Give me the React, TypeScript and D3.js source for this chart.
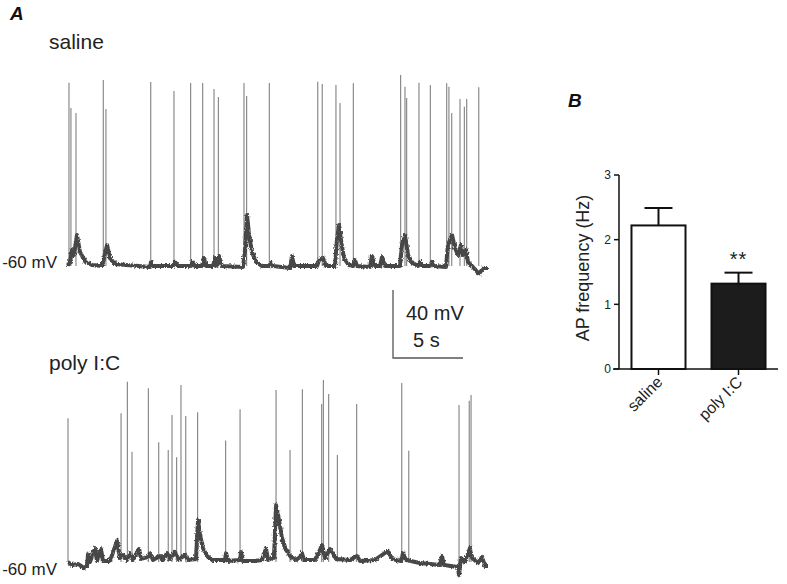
import React from "react";
import * as d3 from "d3";

// ---- trace data (time in s, membrane potential in mV) ----
const salineSpikeTimes = [0.07, 0.21, 0.57, 2.52, 2.71, 5.91, 7.57, 8.76, 9.62, 10.43, 10.74, 12.57, 12.76, 14.38, 17.84, 18.16, 19.14, 19.43, 20.38, 23.76, 24.07, 24.19, 25.07, 25.88, 27.05, 27.21, 27.41, 28.0, 28.31, 28.48, 29.34];
const salineSpikePeaks = [47.8, 32.9, 30, 49.4, 32.4, 48.2, 42.9, 47.6, 47.6, 44.1, 39.4, 47.6, 40, 47.6, 48.4, 47.1, 46.5, 35.9, 47.5, 52.4, 45.5, 38.8, 47.8, 46.5, 47.5, 45.5, 30, 38.2, 33.7, 38.2, 45.1];
const salineBaseT = [0, 0.14, 0.29, 0.43, 0.64, 0.86, 1.21, 1.71, 2.43, 2.57, 2.79, 3.0, 3.36, 5.86, 5.93, 6.07, 7.5, 7.64, 7.86, 8.71, 8.86, 9.07, 9.57, 9.71, 9.86, 10.36, 10.5, 10.64, 10.79, 11.0, 12.5, 12.64, 12.79, 12.93, 13.14, 13.43, 13.86, 14.36, 14.5, 14.64, 15.86, 16.0, 16.14, 17.79, 17.93, 18.21, 18.43, 19.07, 19.21, 19.36, 19.5, 19.71, 20.07, 20.36, 20.5, 20.64, 21.57, 21.71, 21.93, 22.29, 22.43, 22.64, 23.71, 23.86, 24.07, 24.29, 24.5, 25.0, 25.14, 25.29, 25.86, 26.0, 26.14, 27.0, 27.14, 27.43, 27.64, 27.86, 28.07, 28.21, 28.43, 28.57, 28.86, 29.36, 29.64, 30.0];
const salineBaseV = [-60, -57.6, -50.6, -53.5, -41.8, -51.8, -57.1, -59.4, -60, -55.3, -47.6, -55.3, -58.8, -60.6, -57.6, -60, -60, -57.6, -60, -60, -57.6, -60, -60, -55.3, -60, -60, -55.3, -60, -54.1, -60, -60.6, -50.6, -30, -41.8, -51.8, -57.6, -60, -60, -58.2, -60, -61.2, -54.1, -60, -60, -56.5, -55.3, -60, -60, -44.7, -35.9, -44.7, -55.3, -59.4, -60, -56.5, -60, -60.6, -54.1, -60, -60, -54.7, -60, -60, -47.6, -41.8, -53.5, -57.6, -60, -57.6, -60, -60, -57.6, -60, -60.6, -47.6, -41.8, -49.4, -53.5, -47.6, -53.5, -50.6, -57.6, -60, -64.7, -61.2, -61.2];

const polySpikeTimes = [0.0, 3.79, 4.24, 4.57, 5.74, 6.48, 7.16, 7.43, 7.76, 8.07, 8.41, 9.26, 11.26, 12.29, 14.86, 15.86, 16.74, 18.12, 18.24, 18.62, 19.24, 20.62, 23.84, 24.34, 27.93, 28.66, 28.79];
const polySpikePeaks = [24.5, 27.5, 46.1, 4.9, 42.2, 10.4, 5.9, 26.5, 1.6, 44.1, 25.9, 28.1, 11.4, 29.8, 41.2, 5.9, 41.6, 32.9, 47.1, 38.8, 2.9, 32.9, 45.3, 5.5, 32.4, 34.9, 38.2];
const polyBaseT = [0, 0.29, 0.71, 1.14, 1.36, 1.43, 1.57, 1.93, 2.07, 2.36, 2.5, 3.0, 3.5, 3.71, 3.93, 4.21, 4.43, 4.64, 5.07, 5.21, 5.71, 5.86, 6.07, 6.57, 6.79, 7.07, 7.29, 7.64, 7.86, 8.36, 8.57, 9.14, 9.29, 9.43, 9.64, 9.93, 10.29, 11.21, 11.29, 11.43, 12.29, 12.36, 12.5, 13.36, 13.86, 14.14, 14.29, 14.71, 14.86, 15.07, 15.29, 15.57, 15.93, 16.29, 16.57, 16.71, 16.86, 17.64, 18.0, 18.14, 18.36, 18.71, 18.93, 19.14, 20.14, 20.64, 20.86, 21.93, 22.86, 23.14, 23.79, 23.93, 24.14, 25.14, 26.57, 26.71, 26.86, 27.86, 27.93, 28.07, 28.36, 28.71, 28.86, 29.29, 29.57, 29.79, 30.0];
const polyBaseV = [-60, -61.8, -61.2, -63.5, -62.4, -55.3, -60, -51.8, -59.4, -52.4, -59.4, -59.4, -47.6, -57.6, -55.9, -58.8, -54.7, -58.8, -52.4, -58.2, -57.1, -54.7, -58.8, -56.5, -58.8, -54.7, -58.2, -54.1, -58.8, -55.9, -58.8, -58.2, -35.3, -44.1, -51.8, -56.5, -58.8, -58.8, -54.7, -59.4, -58.8, -54.1, -59.4, -59.4, -58.8, -51.8, -58.8, -57.6, -26.5, -35.3, -45.9, -52.9, -57.1, -58.8, -57.1, -54.7, -58.8, -58.8, -52.9, -50, -57.6, -52.4, -54.7, -58.2, -58.8, -56.5, -59.4, -58.8, -53.5, -58.2, -59.4, -54.7, -58.8, -60.6, -61.8, -56.5, -61.8, -62.9, -67.6, -57.6, -60, -51.8, -57.6, -60.6, -57.1, -62.4, -62.4];

// ---- bar chart data ----
const groups = ["saline", "poly I:C"];
const freqMean = [2.22, 1.32];
const freqSem = [0.27, 0.17];
const freqTicks = [0, 1, 2, 3];

const FONT = "'Liberation Sans', Arial, Helvetica, sans-serif";

function Trace({ times, peaks, baseT, baseV, y0, label, labelY, title, titleY }: any) {
  const x = d3.scaleLinear().domain([0, 30]).range([68, 488]);
  const y = d3.scaleLinear().domain([-60, 40]).range([y0, y0 - 170]);
  const pts = baseT.map((t: number, i: number) => [t, baseV[i]]);
  const line = d3
    .line<number[]>()
    .x((d) => x(d[0]))
    .y((d) => y(d[1]));
  return (
    <g>
      <text x={49} y={titleY} fontSize={21} fontFamily={FONT} fill="#222">
        {title}
      </text>
      {times.map((t: number, i: number) => (
        <line
          key={i}
          x1={x(t)}
          x2={x(t)}
          y1={y(-60)}
          y2={y(peaks[i])}
          stroke="#808080"
          strokeWidth={1.1}
        />
      ))}
      <path d={line(pts) || ""} fill="none" stroke="#474747" strokeWidth={4} strokeLinejoin="round" filter="url(#jitter)" />
      <text x={57} y={labelY} fontSize={17} fontFamily={FONT} fill="#222" textAnchor="end">
        {label}
      </text>
    </g>
  );
}

function BarChart() {
  const y = d3.scaleLinear().domain([0, 3]).range([369, 175]);
  const x = d3.scaleBand<string>().domain(groups).range([619, 778]).paddingInner(0.325).paddingOuter(0.156);
  const bw = x.bandwidth();
  return (
    <g fontFamily={FONT}>
      <text x={568} y={107} fontSize={19} fontWeight="bold" fontStyle="italic" fill="#111">
        B
      </text>
      {groups.map((g, i) => {
        const cx = (x(g) as number) + bw / 2;
        const top = y(freqMean[i] + freqSem[i]);
        return (
          <g key={g}>
            <line x1={cx} x2={cx} y1={y(freqMean[i])} y2={top} stroke="#111" strokeWidth={2} />
            <line x1={cx - 14} x2={cx + 14} y1={top} y2={top} stroke="#111" strokeWidth={2} />
            <rect
              x={x(g)}
              y={y(freqMean[i])}
              width={bw}
              height={y(0) - y(freqMean[i])}
              fill={i === 0 ? "#fff" : "#1c1c1c"}
              stroke="#111"
              strokeWidth={2}
            />
          </g>
        );
      })}
      {/* y axis */}
      <line x1={619} x2={619} y1={y(0)} y2={y(3)} stroke="#111" strokeWidth={1.5} />
      {freqTicks.map((t) => (
        <g key={t}>
          <line x1={614} x2={619} y1={y(t)} y2={y(t)} stroke="#111" strokeWidth={1.5} />
          <text x={611} y={y(t)} dy="0.36em" fontSize={12} textAnchor="end" fill="#222">
            {t}
          </text>
        </g>
      ))}
      {/* x axis */}
      <line x1={613} x2={778} y1={y(0)} y2={y(0)} stroke="#111" strokeWidth={1.5} />
      {groups.map((g) => {
        const cx = (x(g) as number) + bw / 2;
        return (
          <g key={g}>
            <line x1={cx} x2={cx} y1={y(0)} y2={y(0) + 6} stroke="#111" strokeWidth={1.5} />
            <text
              transform={`translate(${cx + 5},${y(0) + 14}) rotate(-45)`}
              fontSize={16}
              textAnchor="end"
              fill="#222"
            >
              {g}
            </text>
          </g>
        );
      })}
      <text x={(x(groups[1]) as number) + bw / 2} y={266} fontSize={20} textAnchor="middle" fill="#222" letterSpacing={1}>
        **
      </text>
      <text
        transform={`translate(${589},${268}) rotate(-90)`}
        fontSize={18}
        textAnchor="middle"
        fill="#222"
      >
        AP frequency (Hz)
      </text>
    </g>
  );
}

export default function App() {
  const sx = d3.scaleLinear().domain([0, 30]).range([68, 488]);
  const barW = sx(5) - sx(0);
  const barH = 40 * 1.7;
  return (
    <svg width={787} height={584} style={{ position: "absolute", left: 0, top: 0, background: "#fff" }}>
      <defs>
        <filter id="jitter" x="-2%" y="-60%" width="104%" height="220%">
          <feTurbulence type="fractalNoise" baseFrequency="0.8 0.4" numOctaves={2} seed={4} result="n" />
          <feDisplacementMap in="SourceGraphic" in2="n" scale={3.5} xChannelSelector="R" yChannelSelector="G" />
        </filter>
      </defs>
      <text x={10} y={20} fontSize={19} fontWeight="bold" fontStyle="italic" fontFamily={FONT} fill="#111">
        A
      </text>
      <Trace
        times={salineSpikeTimes}
        peaks={salineSpikePeaks}
        baseT={salineBaseT}
        baseV={salineBaseV}
        y0={266}
        label="-60 mV"
        labelY={268}
        title="saline"
        titleY={49}
      />
      <Trace
        times={polySpikeTimes}
        peaks={polySpikePeaks}
        baseT={polyBaseT}
        baseV={polyBaseV}
        y0={562}
        label="-60 mV"
        labelY={575}
        title="poly I:C"
        titleY={370}
      />
      {/* scale bar: 40 mV / 5 s */}
      <path
        d={`M393,${358 - barH} V358 H${393 + barW}`}
        fill="none"
        stroke="#555"
        strokeWidth={1.3}
      />
      <text x={406} y={320} fontSize={20} fontFamily={FONT} fill="#222">
        40 mV
      </text>
      <text x={413} y={347} fontSize={20} fontFamily={FONT} fill="#222">
        5 s
      </text>
      <BarChart />
    </svg>
  );
}
